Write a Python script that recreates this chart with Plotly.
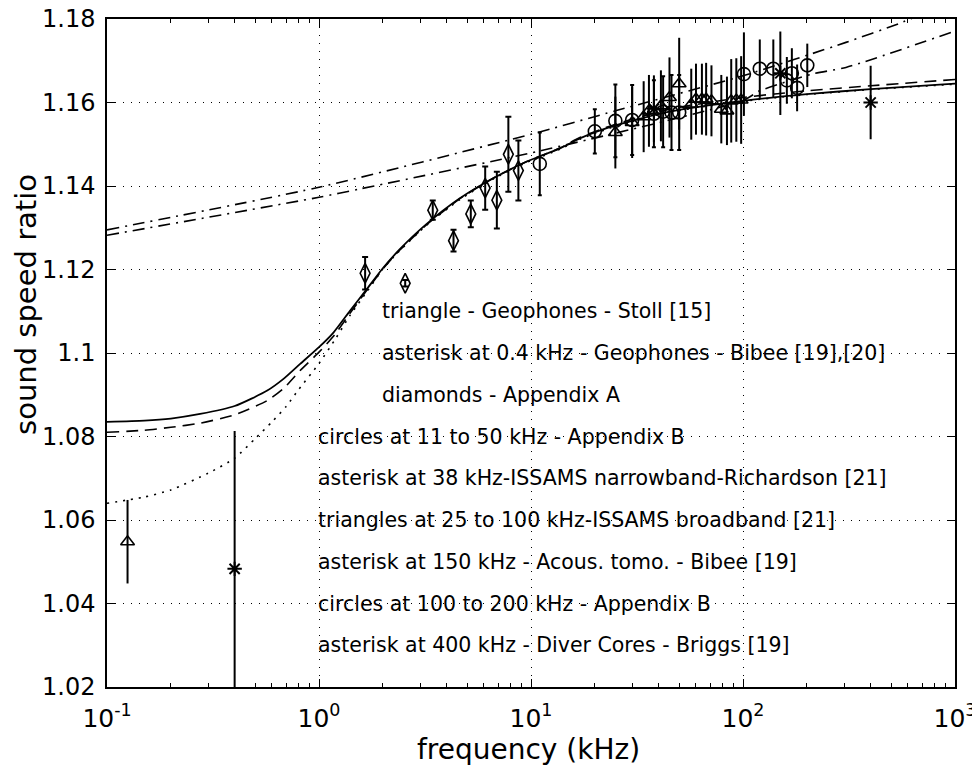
import plotly.graph_objects as go
import numpy as np

# ---------------- data ----------------
# model curves (frequency kHz, sound speed ratio)
solid_f = [0.1, 0.15, 0.2, 0.275, 0.4, 0.57, 0.68, 0.815, 1.0, 1.17, 1.4, 1.68, 2.0, 2.4, 3.2, 4.6, 6.6, 9.5, 13.7, 17, 25, 45, 100, 200, 400, 1000]
solid_v = [1.0835, 1.0838, 1.0843, 1.0854, 1.0873, 1.0910, 1.0938, 1.0974, 1.1014, 1.1049, 1.1101, 1.1153, 1.1203, 1.1248, 1.1308, 1.1370, 1.1418, 1.1458, 1.1490, 1.1514, 1.1545, 1.1578, 1.1604, 1.1620, 1.1632, 1.1645]

dash_f = [0.1, 0.15, 0.2, 0.275, 0.4, 0.57, 0.68, 0.815, 1.0, 1.17, 1.4, 1.68, 2.0, 2.4, 3.2, 4.6, 6.6, 9.5, 13.7, 17, 25, 45, 100, 200, 400, 1000]
dash_v = [1.0810, 1.0815, 1.0822, 1.0832, 1.0852, 1.0886, 1.0915, 1.0958, 1.1002, 1.1040, 1.1095, 1.1150, 1.1201, 1.1246, 1.1306, 1.1369, 1.1418, 1.1458, 1.1491, 1.1516, 1.1548, 1.1584, 1.1612, 1.1628, 1.1640, 1.1655]

dot_f = [0.1, 0.15, 0.2, 0.3, 0.4, 0.5, 0.6, 0.7, 0.8, 1.0, 1.2, 1.4, 1.7, 2.0, 2.4, 3.2, 4.6, 6.6, 9.5, 13.7, 17, 25, 45, 100, 200, 400, 1000]
dot_v = [1.0640, 1.0655, 1.0672, 1.0712, 1.0748, 1.0795, 1.0835, 1.0872, 1.0912, 1.0975, 1.1035, 1.1090, 1.1150, 1.1201, 1.1245, 1.1305, 1.1367, 1.1416, 1.1456, 1.1488, 1.1512, 1.1543, 1.1577, 1.1603, 1.1619, 1.1631, 1.1644]

dashdot1_f = [0.1, 1.0, 10, 25, 100, 306, 550, 1000]
dashdot1_v = [1.1295, 1.1397, 1.1524, 1.1580, 1.1664, 1.1744, 1.1790, 1.1845]

dashdot2_f = [0.1, 1.0, 1.56, 11, 100, 120, 211, 306, 1000]
dashdot2_v = [1.1282, 1.1373, 1.1393, 1.1484, 1.1605, 1.1628, 1.1668, 1.1684, 1.1771]

# measurements
stoll_f = [0.125]
stoll_v = [1.0548]
stoll_e = [0.0100]

bibee_f = [0.4]
bibee_v = [1.0483]
bibee_e = [0.0330]

diam_f = [1.65, 2.55, 3.44, 4.31, 5.20, 6.08, 6.90, 7.82, 8.72]
diam_v = [1.1191, 1.1167, 1.1342, 1.1269, 1.1333, 1.1395, 1.1366, 1.1476, 1.1437]
diam_e = [0.0039, 0.0008, 0.0023, 0.0026, 0.0032, 0.0052, 0.0068, 0.0090, 0.0072]

circ1_f = [11, 20, 25, 30, 38, 42, 46, 50]
circ1_v = [1.1453, 1.1531, 1.1556, 1.1558, 1.1573, 1.1578, 1.1576, 1.1576]
circ1_e = [0.0075, 0.0053, 0.0087, 0.0084, 0.0080, 0.0085, 0.0090, 0.0090]

rich_f = [38]
rich_v = [1.1585]
rich_e = [0.0080]

tri_f = [25, 30, 34, 36, 41, 45, 50, 57, 60, 64, 67, 71, 79, 84, 88, 93, 98]
tri_v = [1.1528, 1.1552, 1.1566, 1.1580, 1.1592, 1.1612, 1.1645, 1.1596, 1.1608, 1.1608, 1.1608, 1.1604, 1.1584, 1.1580, 1.1604, 1.1606, 1.1606]
tri_e = [0.0086, 0.0085, 0.0085, 0.0086, 0.0085, 0.0096, 0.0110, 0.0085, 0.0085, 0.0085, 0.0087, 0.0085, 0.0082, 0.0082, 0.0100, 0.0100, 0.0105]

tomo_f = [150]
tomo_v = [1.1670]
tomo_e = [0.0100]

circ2_f = [101, 120, 139, 161, 170, 180, 201]
circ2_v = [1.1668, 1.1681, 1.1681, 1.1653, 1.1670, 1.1635, 1.1689]
circ2_e = [0.0100, 0.0070, 0.0070, 0.0056, 0.0060, 0.0056, 0.0052]

briggs_f = [400]
briggs_v = [1.1600]
briggs_e = [0.0088]

notes = [
    "triangle - Geophones - Stoll [15]",
    "asterisk at 0.4 kHz - Geophones - Bibee [19],[20]",
    "diamonds - Appendix A",
    "circles at 11 to 50 kHz - Appendix B",
    "asterisk at 38 kHz-ISSAMS narrowband-Richardson [21]",
    "triangles at 25 to 100 kHz-ISSAMS broadband [21]",
    "asterisk at 150 kHz - Acous. tomo. - Bibee [19]",
    "circles at 100 to 200 kHz - Appendix B",
    "asterisk at 400 kHz - Diver Cores - Briggs [19]",
]
notes_x = [2.0, 2.0, 2.0, 1.0, 1.0, 1.0, 1.0, 1.0, 1.0]
notes_y = [1.11, 1.10, 1.09, 1.08, 1.07, 1.06, 1.05, 1.04, 1.03]

yticks = [1.02, 1.04, 1.06, 1.08, 1.1, 1.12, 1.14, 1.16, 1.18]
ytick_text = ["1.02", "1.04", "1.06", "1.08", "1.1", "1.12", "1.14", "1.16", "1.18"]
xticks = [0.1, 1, 10, 100, 1000]
xtick_text = ["10<sup>-1</sup>", "10<sup>0</sup>", "10<sup>1</sup>", "10<sup>2</sup>", "10<sup>3</sup>"]
decades = [0.1, 1, 10, 100]
minor_digits = [2, 3, 4, 5, 6, 7, 8, 9]

x_title = "frequency (kHz)"
y_title = "sound speed ratio"

# ---------------- figure ----------------
K = "black"
FONT = "DejaVu Sans, Liberation Sans, Arial, sans-serif"
fig = go.Figure()

def line(x, y, dash, w=1.6):
    fig.add_trace(go.Scatter(x=x, y=y, mode="lines",
                             line=dict(color=K, width=w, dash=dash, shape="spline", smoothing=0.6),
                             showlegend=False, hoverinfo="skip"))

line(dot_f, dot_v, "2px,6px", 1.6)
line(dashdot1_f, dashdot1_v, "12px,6px,2px,6px", 1.6)
line(dashdot2_f, dashdot2_v, "12px,6px,2px,6px", 1.6)
line(dash_f, dash_v, "12px,7px", 1.6)
line(solid_f, solid_v, "solid", 1.8)

def pts(x, y, e, symbol, size, cap=4, lw=1.6):
    fig.add_trace(go.Scatter(
        x=x, y=y, mode="markers",
        marker=dict(symbol=symbol, size=size, color=K, line=dict(color=K, width=lw)),
        error_y=dict(type="data", array=e, visible=True, color=K, thickness=2, width=cap),
        showlegend=False, hoverinfo="skip"))

pts(stoll_f, stoll_v, stoll_e, "triangle-up-open", 12, 0)
pts(bibee_f, bibee_v, bibee_e, "asterisk-open", 12, 0, 2)
pts(diam_f, diam_v, diam_e, "diamond-tall-open", 14, 3)
pts(circ1_f, circ1_v, circ1_e, "circle-open", 13, 2)
pts(tri_f, tri_v, tri_e, "triangle-up-open", 12, 0)
pts(rich_f, rich_v, rich_e, "asterisk-open", 12, 0, 2)
pts(circ2_f, circ2_v, circ2_e, "circle-open", 13, 0)
pts(tomo_f, tomo_v, tomo_e, "asterisk-open", 12, 0, 2)
pts(briggs_f, briggs_v, briggs_e, "asterisk-open", 12, 0, 2)

for t, xx, yy in zip(notes, notes_x, notes_y):
    fig.add_annotation(x=np.log10(xx), y=yy, xref="x", yref="y", text=t, showarrow=False,
                       xanchor="left", yanchor="middle", xshift=-3,
                       font=dict(family=FONT, size=20.5, color=K))

# axis titles as annotations (page has an 8px body margin; layout compensates)
fig.add_annotation(x=-0.0955, y=0.572, xref="paper", yref="paper", text=y_title, textangle=-90,
                   showarrow=False, xanchor="center", yanchor="middle",
                   font=dict(family=FONT, size=29, color=K))
fig.add_annotation(x=0.4965, y=-0.094, xref="paper", yref="paper", text=x_title,
                   showarrow=False, xanchor="center", yanchor="middle",
                   font=dict(family=FONT, size=28, color=K))

axis_common = dict(showline=True, linecolor=K, linewidth=1.5, mirror="ticks", ticks="inside", ticklen=8,
                   tickcolor=K, tickwidth=1.2, showgrid=True, gridcolor=K, gridwidth=1, griddash="1px,7px",
                   zeroline=False, automargin=False, ticklabeloverflow="allow")

minor_vals = [d * m for d in decades for m in minor_digits]

fig.update_xaxes(type="log", range=[-1, 3], tickvals=xticks, ticktext=xtick_text,
                 tickfont=dict(family=FONT, size=25, color=K), ticklabelstandoff=8,
                 minor=dict(ticks="inside", ticklen=4, tickcolor=K, tickvals=minor_vals, showgrid=False),
                 **axis_common)
fig.update_yaxes(range=[1.02, 1.18], tickvals=yticks, ticktext=ytick_text,
                 tickfont=dict(family=FONT, size=24, color=K), ticklabelstandoff=5,
                 **axis_common)

fig.update_layout(width=980, height=774, plot_bgcolor="white", paper_bgcolor="white",
                  margin=dict(l=99, r=33, t=11, b=95), font=dict(family=FONT, color=K))

fig.write_html("out.html")
